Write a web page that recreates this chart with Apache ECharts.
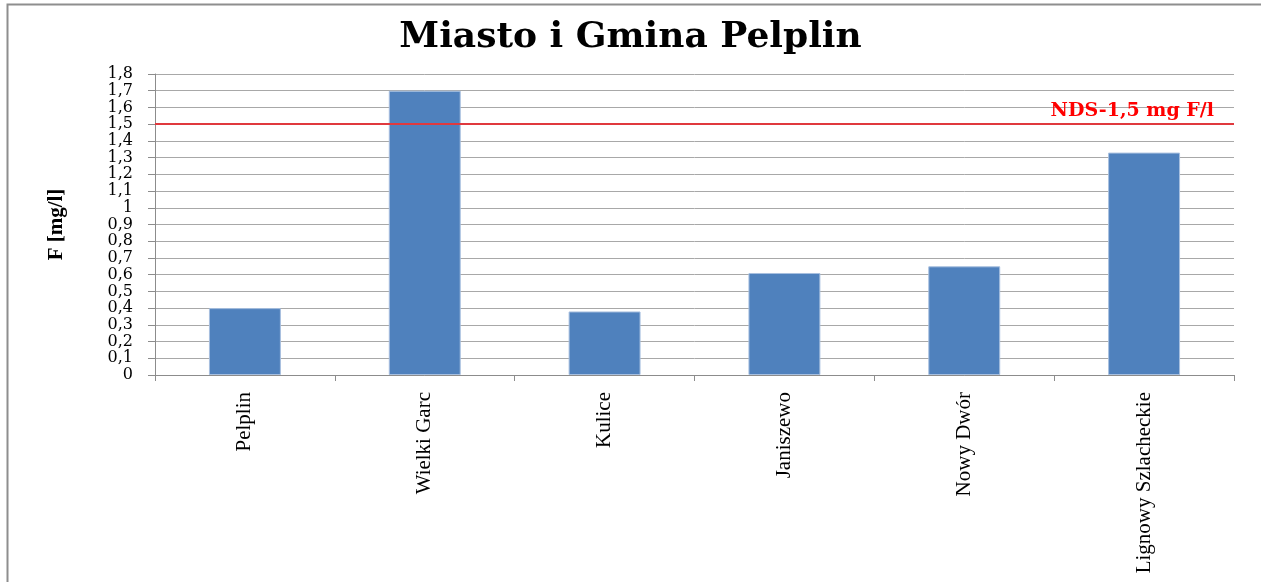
<!DOCTYPE html>
<html>
<head>
<meta charset="utf-8">
<script src="https://cdn.jsdelivr.net/npm/echarts@6/dist/echarts.min.js"></script>
<style>
  html, body { margin: 0; padding: 0; background: #fff; overflow: hidden; }
  #chart { width: 1261px; height: 582px; }
</style>
</head>
<body>
<div id="chart"></div>
<script>
// data
var categories = ["Pelplin", "Wielki Garc", "Kulice", "Janiszewo", "Nowy Dwór", "Lignowy Szlacheckie"];
var fluorValues = [0.40, 1.70, 0.38, 0.61, 0.65, 1.33];
var ndsLimit = 1.5;
var ndsLabel = "NDS-1,5 mg F/l";

var chart = echarts.init(document.getElementById("chart"));

var option = {
  backgroundColor: "#fff",
  animation: false,
  title: {
    text: "Miasto i Gmina Pelplin",
    left: "center",
    top: 15,
    textStyle: {
      fontFamily: "DejaVu Serif",
      fontWeight: "bold",
      fontSize: 36,
      color: "#000"
    }
  },
  graphic: [
    {
      type: "rect",
      silent: true,
      shape: { x: 7.5, y: 4.5, width: 1400, height: 800 },
      style: { fill: "none", stroke: "#8e8e8e", lineWidth: 2 }
    }
  ],
  grid: {
    left: 155,
    right: 27,
    top: 74,
    bottom: 207,
    containLabel: false
  },
  xAxis: {
    type: "category",
    data: categories,
    axisLine: { lineStyle: { color: "#8c8c8c", width: 1 } },
    axisTick: { show: true, length: 6, alignWithLabel: false, lineStyle: { color: "#8c8c8c" } },
    axisLabel: {
      rotate: 90,
      margin: 17,
      interval: 0,
      fontFamily: "Liberation Serif",
      fontSize: 21,
      color: "#000"
    }
  },
  yAxis: {
    type: "value",
    min: 0,
    max: 1.8,
    interval: 0.1,
    name: "F [mg/l]",
    nameLocation: "middle",
    nameRotate: 90,
    nameGap: 88,
    nameTextStyle: {
      fontFamily: "Liberation Serif",
      fontWeight: "bold",
      fontSize: 21,
      color: "#000"
    },
    axisLine: { show: true, lineStyle: { color: "#8c8c8c", width: 1 } },
    axisTick: { show: true, length: 7, lineStyle: { color: "#8c8c8c" } },
    splitLine: { lineStyle: { color: "#a8a8a8", width: 1 } },
    axisLabel: {
      margin: 22,
      fontFamily: "DejaVu Serif",
      fontSize: 16,
      color: "#000",
      formatter: function (v) {
        return String(+v.toFixed(1)).replace(".", ",");
      }
    }
  },
  series: [
    {
      name: "F",
      type: "bar",
      barWidth: "40%",
      data: fluorValues,
      itemStyle: {
        color: "#4f81bd",
        borderColor: "#a7bfdf",
        borderWidth: 1
      },
      markLine: {
        silent: true,
        symbol: "none",
        data: [{ yAxis: ndsLimit }],
        lineStyle: { color: "#e0393e", width: 2, type: "solid" },
        label: {
          position: "insideEndTop",
          distance: [20, 4],
          formatter: ndsLabel,
          fontFamily: "DejaVu Serif",
          fontWeight: "bold",
          fontSize: 19,
          color: "#ff0000"
        }
      }
    }
  ]
};

chart.setOption(option);
</script>
</body>
</html>
